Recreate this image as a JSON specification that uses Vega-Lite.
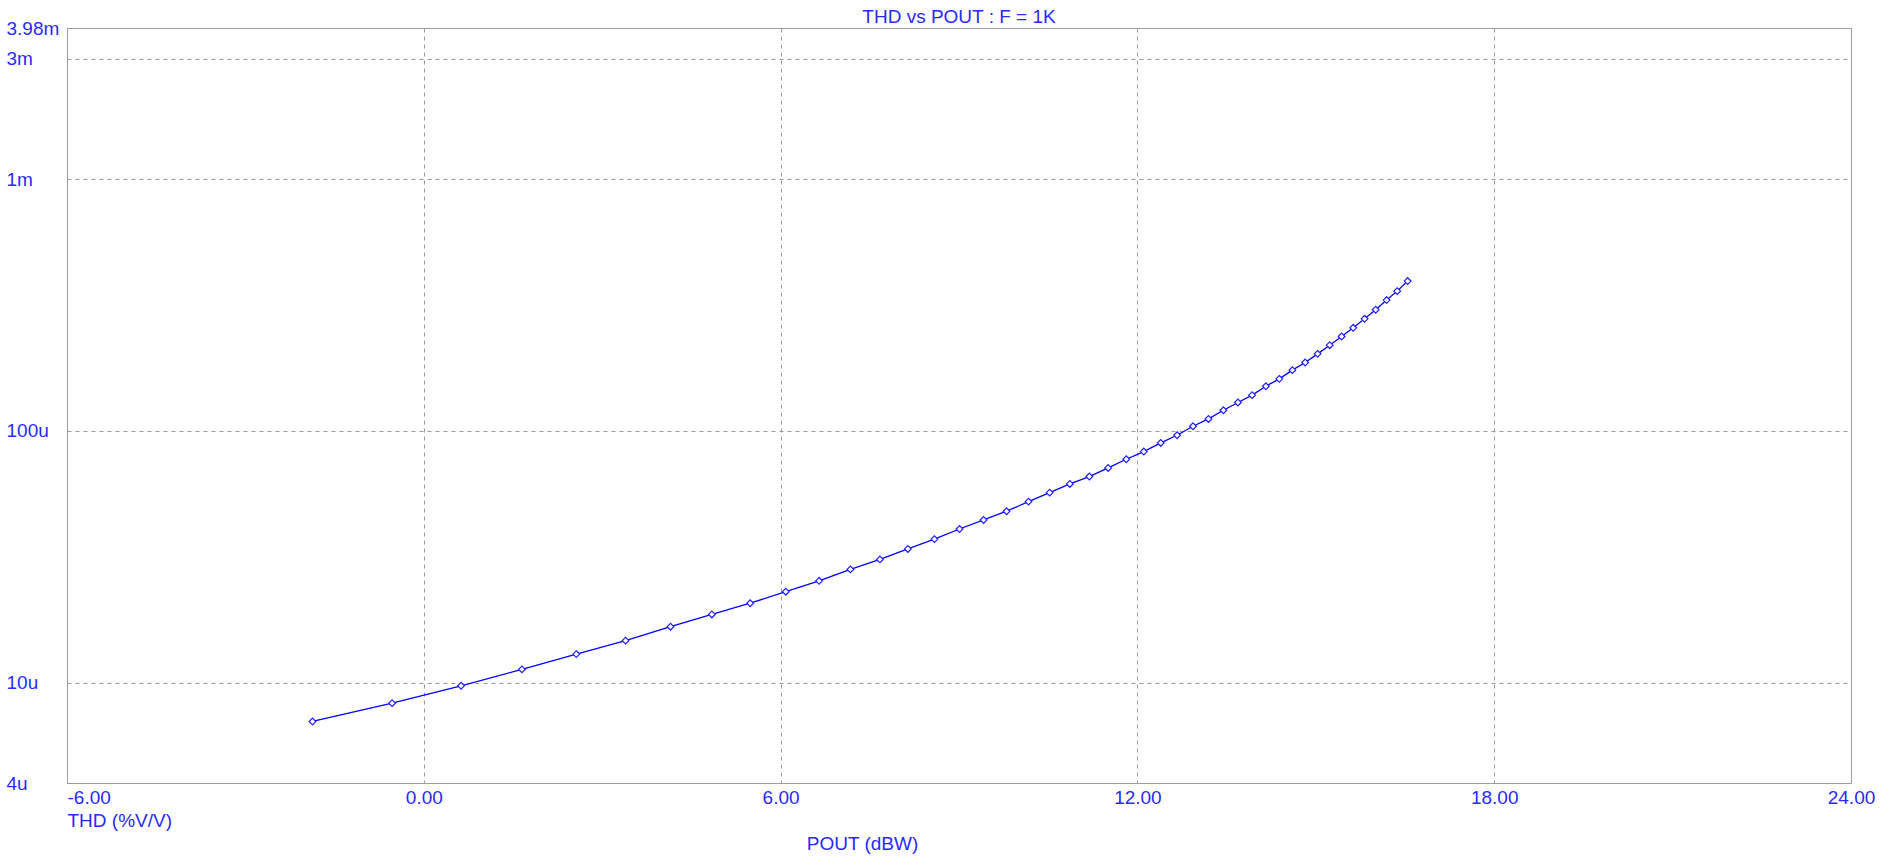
{
  "$schema": "https://vega.github.io/schema/vega-lite/v6.json",
  "autosize": "none",
  "padding": {"left": 67, "top": 28, "right": 43, "bottom": 81},
  "width": 1784,
  "height": 755,
  "background": "white",
  "config": {
    "view": {"stroke": "#a0a0a0", "strokeWidth": 1},
    "font": "Liberation Sans"
  },
  "title": {
    "text": "THD vs POUT : F = 1K",
    "font": "Liberation Sans",
    "fontSize": 19,
    "fontWeight": "normal",
    "color": "#2a2aff",
    "baseline": "alphabetic",
    "offset": 6,
    "dy": 29,
    "anchor": "middle",
    "frame": "group"
  },
  "data": {
    "values": [
      {"pout": -1.872, "thd": 7.02e-6},
      {"pout": -0.533, "thd": 8.30e-6},
      {"pout": 0.627, "thd": 9.73e-6},
      {"pout": 1.650, "thd": 1.13e-5},
      {"pout": 2.565, "thd": 1.30e-5},
      {"pout": 3.393, "thd": 1.47e-5},
      {"pout": 4.149, "thd": 1.67e-5},
      {"pout": 4.844, "thd": 1.868e-5},
      {"pout": 5.488, "thd": 2.07e-5},
      {"pout": 6.087, "thd": 2.30e-5},
      {"pout": 6.647, "thd": 2.54e-5},
      {"pout": 7.174, "thd": 2.82e-5},
      {"pout": 7.670, "thd": 3.09e-5},
      {"pout": 8.140, "thd": 3.40e-5},
      {"pout": 8.586, "thd": 3.72e-5},
      {"pout": 9.009, "thd": 4.08e-5},
      {"pout": 9.413, "thd": 4.43e-5},
      {"pout": 9.800, "thd": 4.80e-5},
      {"pout": 10.169, "thd": 5.24e-5},
      {"pout": 10.524, "thd": 5.69e-5},
      {"pout": 10.864, "thd": 6.16e-5},
      {"pout": 11.192, "thd": 6.59e-5},
      {"pout": 11.508, "thd": 7.13e-5},
      {"pout": 11.813, "thd": 7.72e-5},
      {"pout": 12.107, "thd": 8.28e-5},
      {"pout": 12.392, "thd": 8.96e-5},
      {"pout": 12.668, "thd": 9.61e-5},
      {"pout": 12.935, "thd": 1.044e-4},
      {"pout": 13.195, "thd": 1.116e-4},
      {"pout": 13.446, "thd": 1.208e-4},
      {"pout": 13.691, "thd": 1.297e-4},
      {"pout": 13.929, "thd": 1.387e-4},
      {"pout": 14.161, "thd": 1.505e-4},
      {"pout": 14.386, "thd": 1.61e-4},
      {"pout": 14.606, "thd": 1.743e-4},
      {"pout": 14.821, "thd": 1.87e-4},
      {"pout": 15.030, "thd": 2.023e-4},
      {"pout": 15.234, "thd": 2.19e-4},
      {"pout": 15.434, "thd": 2.372e-4},
      {"pout": 15.629, "thd": 2.567e-4},
      {"pout": 15.820, "thd": 2.787e-4},
      {"pout": 16.007, "thd": 3.027e-4},
      {"pout": 16.190, "thd": 3.308e-4},
      {"pout": 16.369, "thd": 3.59e-4},
      {"pout": 16.544, "thd": 3.936e-4}
    ]
  },
  "encoding": {
    "x": {
      "field": "pout",
      "type": "quantitative",
      "scale": {"domain": [-6, 24], "nice": false, "zero": false},
      "axis": {
        "values": [-6, 0, 6, 12, 18, 24],
        "labelExpr": "datum.value < -1 ? '-6.00' : format(datum.value, '.2f')",
        "domain": false,
        "ticks": false,
        "tickSize": 0,
        "grid": true,
        "gridColor": "#999999",
        "gridDash": [4, 4],
        "gridWidth": 1,
        "labelFont": "Liberation Sans",
        "labelFontSize": 19,
        "labelColor": "#2a2aff",
        "labelPadding": 5,
        "labelBaseline": "top",
        "labelAlign": {"expr": "datum.value == -6 ? 'left' : 'center'"},
        "labelFlush": false,
        "labelOverlap": false,
        "title": "POUT (dBW)",
        "titleFont": "Liberation Sans",
        "titleFontSize": 19,
        "titleFontWeight": "normal",
        "titleColor": "#2a2aff",
        "titleX": 795,
        "titleY": 60,
        "titleAlign": "center",
        "titleBaseline": "middle"
      }
    },
    "y": {
      "field": "thd",
      "type": "quantitative",
      "scale": {"type": "log", "domain": [4e-6, 3.98e-3], "nice": false, "zero": false},
      "axis": {
        "values": [4e-6, 1e-5, 1e-4, 1e-3, 3e-3, 3.98e-3],
        "labelExpr": "datum.value < 5e-6 ? '4u' : datum.value < 5e-5 ? '10u' : datum.value < 5e-4 ? '100u' : datum.value < 2e-3 ? '1m' : datum.value < 3.5e-3 ? '3m' : '3.98m'",
        "domain": false,
        "ticks": false,
        "tickSize": 0,
        "grid": true,
        "gridColor": "#999999",
        "gridDash": [4, 4],
        "gridWidth": 1,
        "labelFont": "Liberation Sans",
        "labelFontSize": 19,
        "labelColor": "#2a2aff",
        "labelPadding": 61,
        "labelAlign": "left",
        "labelBaseline": "middle",
        "labelFlush": false,
        "labelOverlap": false,
        "title": "THD (%V/V)",
        "titleFont": "Liberation Sans",
        "titleFontSize": 19,
        "titleFontWeight": "normal",
        "titleColor": "#2a2aff",
        "titleAngle": 0,
        "titleX": 0,
        "titleY": 792,
        "titleAlign": "left",
        "titleBaseline": "middle"
      }
    }
  },
  "layer": [
    {
      "mark": {"type": "line", "color": "#0000ff", "strokeWidth": 1.3}
    },
    {
      "mark": {"type": "point", "shape": "diamond", "size": 45, "filled": false, "fill": "white", "fillOpacity": 1, "stroke": "#2020ff", "strokeWidth": 1.2, "opacity": 1}
    }
  ]
}
